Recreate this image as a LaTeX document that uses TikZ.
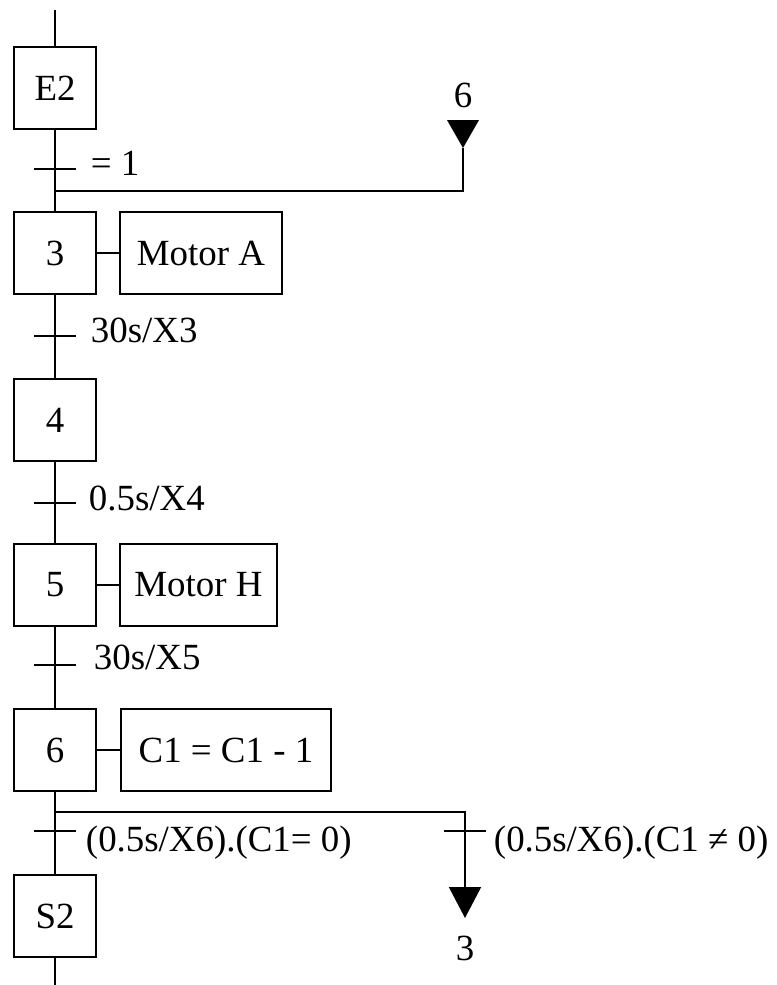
\documentclass[tikz,border=0pt]{standalone}
\usepackage{fontspec}
\setmainfont{Liberation Serif}
\usetikzlibrary{arrows.meta}

\begin{document}
\begin{tikzpicture}[x=0.02cm, y=-0.02cm, line width=1.1pt,
    etape/.style={draw, minimum size=1.64cm, inner sep=0pt,
      font=\fontsize{21}{25}\selectfont},
    action/.style={draw, anchor=west, minimum height=1.64cm, inner sep=0pt,
      font=\fontsize{21}{25}\selectfont},
    tick/.style={draw, minimum width=0.84cm, minimum height=0pt, inner sep=0pt},
    recept/.style={anchor=west, inner sep=0pt, font=\fontsize{21}{25}\selectfont}]
    \useasboundingbox (0,0) rectangle (777,985);

    % steps
    \coordinate (top) at (55,10);
    \node[etape] (E2) at (55,88) {E2};
    \node[etape] (s3) at (55,253) {3};
    \node[etape] (s4) at (55,420) {4};
    \node[etape] (s5) at (55,585) {5};
    \node[etape] (s6) at (55,750) {6};
    \node[etape] (S2) at (55,916) {S2};
    \coordinate (bottom) at (55,985);

    % actions
    \node[action, minimum width=3.24cm] (motA) at (119,253) {Motor A};
    \node[action, minimum width=3.14cm] (motH) at (119,585) {Motor H};
    \node[action, minimum width=4.2cm] (cnt) at (120,750) {C1 = C1 - 1};

    % transitions
    \node[tick] (t1) at (55,169) {};
    \node[tick] (t2) at (55,336) {};
    \node[tick] (t3) at (55,503) {};
    \node[tick] (t4) at (55,665) {};
    \node[tick] (t5) at (55,831) {};
    \node[tick] (t6) at (465,831) {};
    \node[recept] (r1) at (90,163) {= 1};
    \node[recept] (r2) at (90,330) {30s/X3};
    \node[recept] (r3) at (88,498) {0.5s/X4};
    \node[recept] (r4) at (93,657) {30s/X5};
    \node[recept] (r5) at (85,843) {(0.5s/X6).(C1= 0)};
    \node[recept] (r6) at (493,843) {(0.5s/X6).(C1 ≠ 0)};

    % links
    \draw (top) -- (E2);
    \draw (E2) -- (t1) -- (s3);
    \draw (s3) -- (t2) -- (s4);
    \draw (s4) -- (t3) -- (s5);
    \draw (s5) -- (t4) -- (s6);
    \draw (s6) -- (t5) -- (S2);
    \draw (S2) -- (bottom);
    \draw (s3) -- (motA);
    \draw (s5) -- (motH);
    \draw (s6) -- (cnt);

    % jump back to 6
    \coordinate (f1) at (55,191);
    \coordinate (j6) at (463,148);
    \draw (f1) -| (j6);
    \fill (j6) -- ++(-16,-28) -- ++(32,0) -- cycle;
    \node[font=\fontsize{21}{25}\selectfont] (l6) at (463,95) {6};

    % jump to 3
    \coordinate (f2) at (55,812);
    \coordinate (j3) at (465,918);
    \draw (f2) -| (t6);
    \draw[-{Triangle[length=0.62cm, width=0.64cm]}] (t6) -- (j3);
    \node[font=\fontsize{21}{25}\selectfont] (l3) at (465,948) {3};
\end{tikzpicture}
\end{document}
